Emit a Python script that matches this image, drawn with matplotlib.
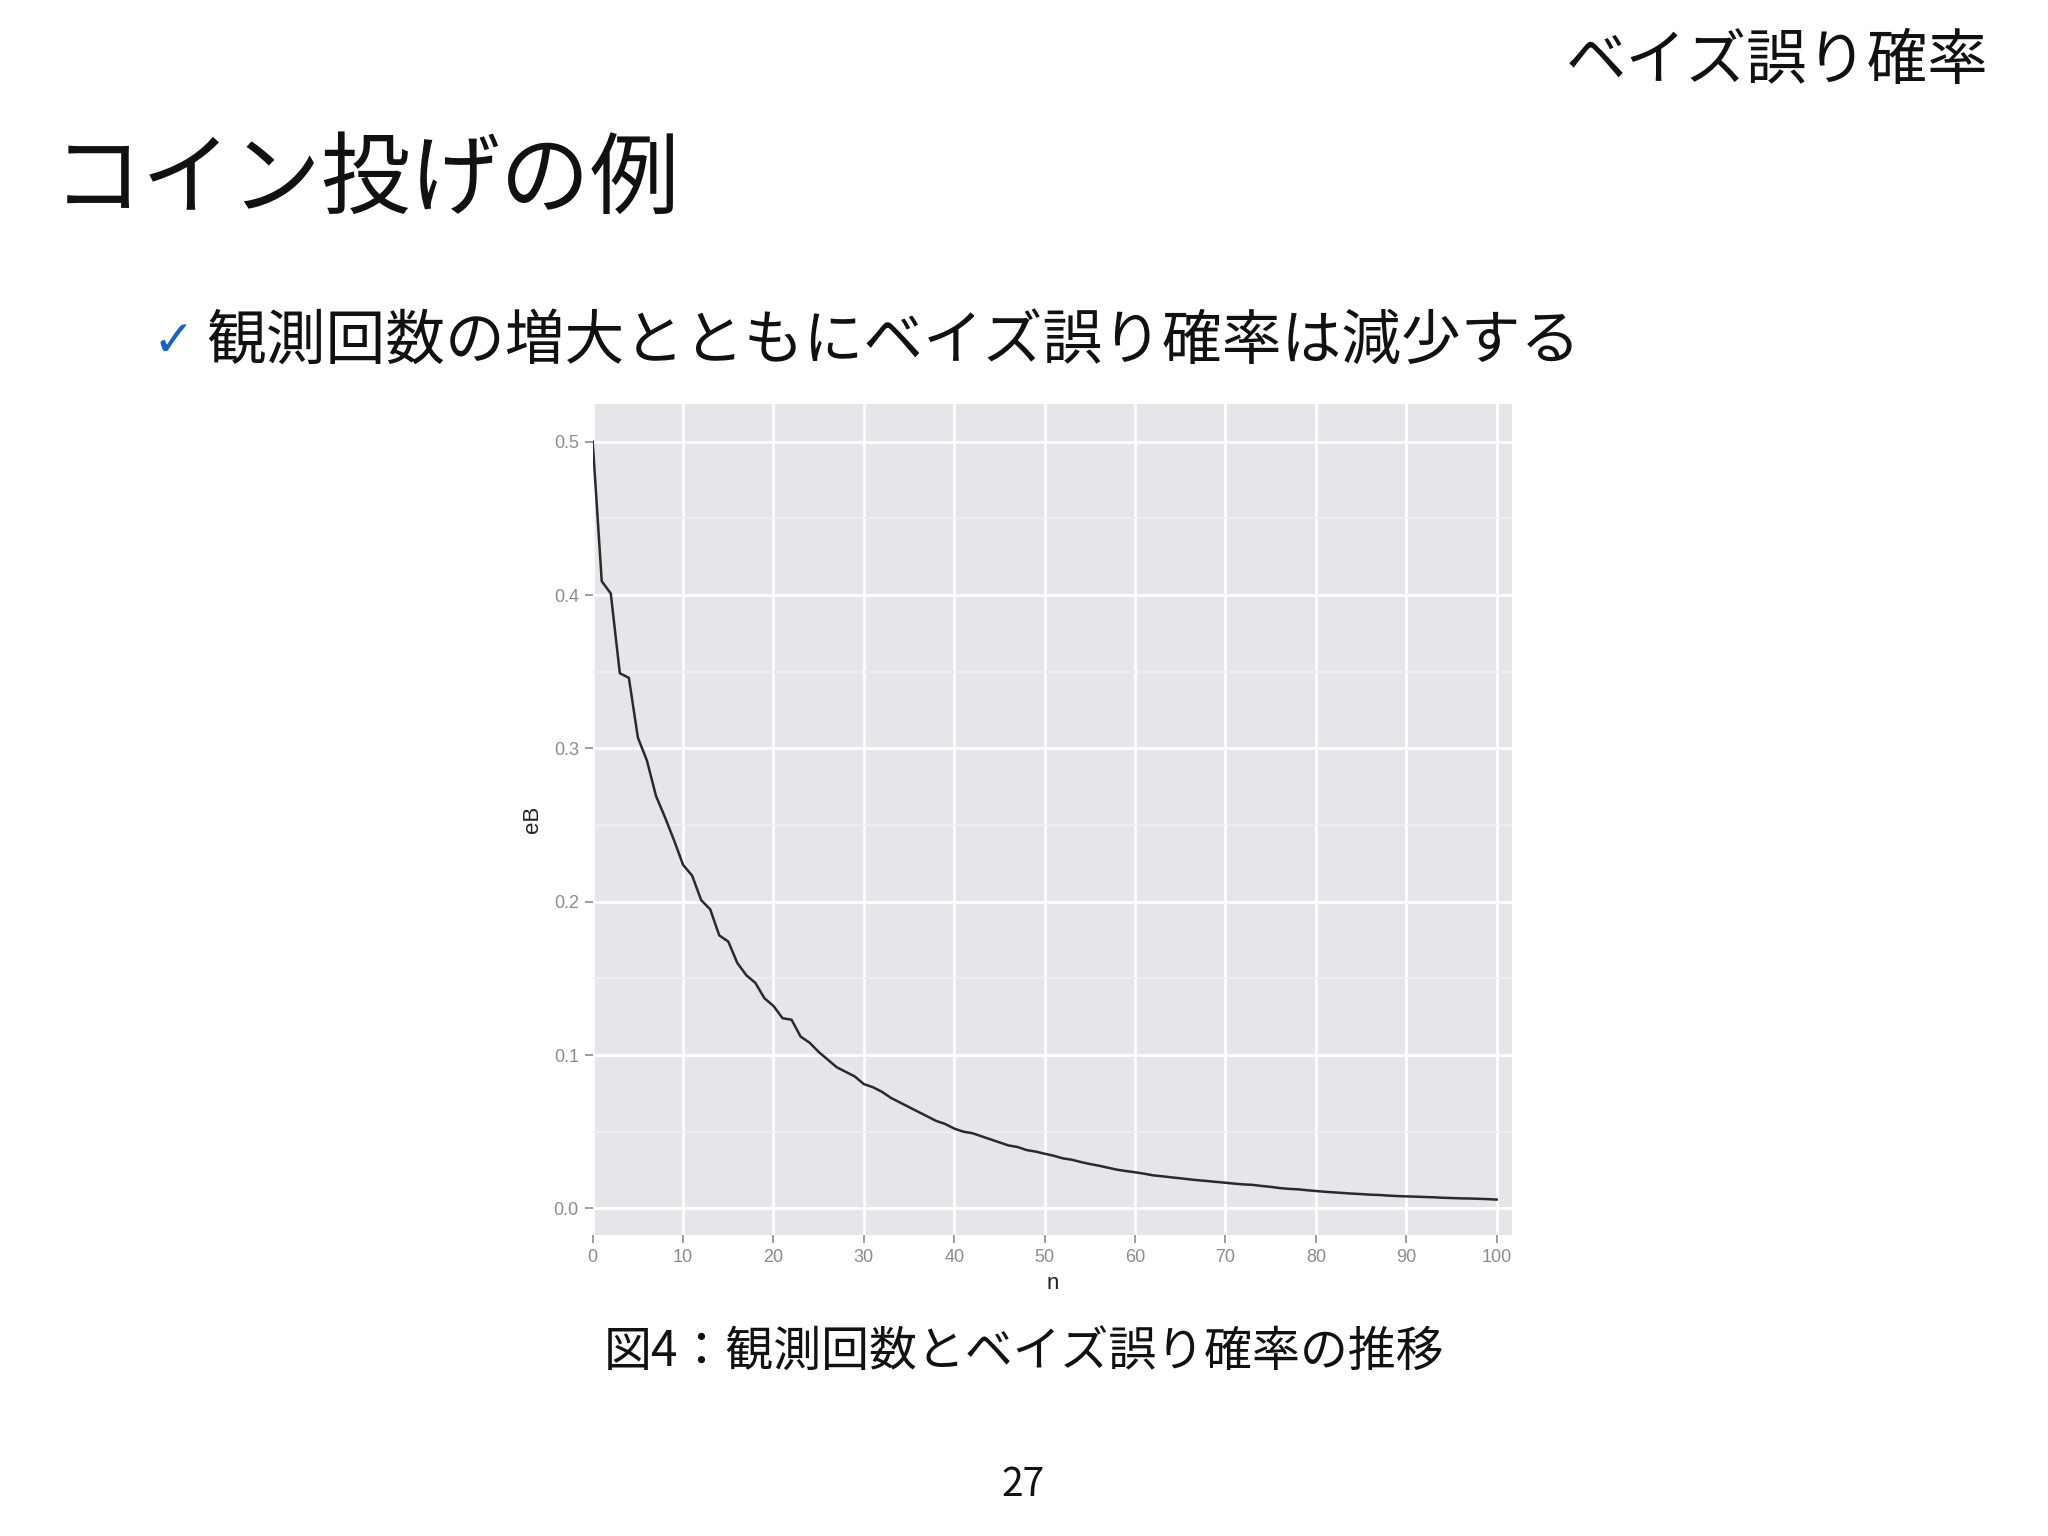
import matplotlib
matplotlib.use("Agg")
import matplotlib.pyplot as plt
from matplotlib.ticker import MultipleLocator, FormatStrFormatter

# ---- data ----
n_values = list(range(0, 101))
eB_values = [
    0.500, 0.409, 0.401, 0.349, 0.346, 0.307, 0.292, 0.269, 0.255, 0.240,
    0.224, 0.217, 0.201, 0.195, 0.178, 0.174, 0.160, 0.152, 0.147, 0.137,
    0.132, 0.124, 0.123, 0.112, 0.108, 0.102, 0.097, 0.092, 0.089, 0.086,
    0.081, 0.079, 0.076, 0.072, 0.069, 0.066, 0.063, 0.060, 0.057, 0.055,
    0.052, 0.050, 0.049, 0.047, 0.045, 0.043, 0.041, 0.040, 0.038, 0.037,
    0.0356, 0.0343, 0.0326, 0.0317, 0.0302, 0.0289, 0.0278, 0.0265, 0.0252, 0.0243,
    0.0235, 0.0226, 0.0215, 0.0209, 0.0202, 0.0196, 0.0189, 0.0183, 0.0178, 0.0172,
    0.0167, 0.0161, 0.0156, 0.0153, 0.0146, 0.0140, 0.0132, 0.0127, 0.0124, 0.0118,
    0.0113, 0.0108, 0.0104, 0.0100, 0.0096, 0.0093, 0.0089, 0.0087, 0.0083, 0.0080,
    0.0078, 0.0076, 0.0074, 0.0072, 0.0069, 0.0067, 0.0065, 0.0064, 0.0062, 0.0060,
    0.0057,
]
x_ticks = [0, 10, 20, 30, 40, 50, 60, 70, 80, 90, 100]
y_ticks = [0.0, 0.1, 0.2, 0.3, 0.4, 0.5]

header_text = "ベイズ誤り確率"
title_text = "コイン投げの例"
bullet_text = "観測回数の増大とともにベイズ誤り確率は減少する"
caption_text = "図4：観測回数とベイズ誤り確率の推移"
page_text = "27"
x_label = "n"
y_label = "eB"

JP = ["Noto Sans CJK JP", "DejaVu Sans"]

fig = plt.figure(figsize=(20.48, 15.36), dpi=100)
fig.patch.set_facecolor("white")

# ---- slide texts ----
fig.text(1988 / 2048, 1 - 62 / 1536, header_text, family=JP, fontsize=43.5,
         ha="right", va="center", color="#111111")
fig.text(53 / 2048, 1 - 182 / 1536, title_text, family=JP, fontsize=64.5,
         ha="left", va="center", color="#111111")
fig.text(152 / 2048, 1 - 342 / 1536, "\u2713", family=["DejaVu Sans"], fontsize=36,
         ha="left", va="center", color="#1565C0")
fig.text(206 / 2048, 1 - 342 / 1536, bullet_text, family=JP, fontsize=43,
         ha="left", va="center", color="#111111")
fig.text(1024 / 2048, 1 - 1353 / 1536, caption_text, family=JP, fontsize=34.5,
         ha="center", va="center", color="#111111")
fig.text(1023 / 2048, 1 - 1485 / 1536, page_text, family=JP, fontsize=28,
         ha="center", va="center", color="#111111")

# ---- chart panel ----
left, right = 592.7 / 2048, 1512 / 2048
top, bottom = 1 - 404 / 1536, 1 - 1235 / 1536
ax = fig.add_axes([left, bottom, right - left, top - bottom])
ax.set_facecolor("#E6E5E9")

ax.plot(n_values, eB_values, color="#2a2a2a", lw=1.8, solid_joinstyle="round", zorder=3)

ax.set_xlim(0, 101.7)
ax.set_ylim(-0.0174, 0.5246)
ax.set_xticks(x_ticks)
ax.set_yticks(y_ticks)
ax.yaxis.set_major_formatter(FormatStrFormatter("%.1f"))
ax.yaxis.set_minor_locator(MultipleLocator(0.05))

ax.grid(True, which="major", color="white", lw=2.0, zorder=0)
ax.grid(True, which="minor", axis="y", color="#F1F0F3", lw=1.1, zorder=0)
ax.set_axisbelow(True)

for s in ax.spines.values():
    s.set_visible(False)

ax.tick_params(axis="both", which="major", length=6, width=1.2, color="#8c8c8c",
               labelcolor="#8c8c8c", labelsize=13, pad=4)
ax.tick_params(axis="y", which="minor", length=0)
for lab in ax.get_xticklabels() + ax.get_yticklabels():
    lab.set_family(["Liberation Sans", "DejaVu Sans"])

ax.set_xlabel(x_label, family=["Liberation Sans"], fontsize=16, color="#222222", labelpad=5)
ax.set_ylabel(y_label, family=["Liberation Sans"], fontsize=16, color="#222222", labelpad=8)

fig.savefig("out.png", dpi=100, facecolor="white")
